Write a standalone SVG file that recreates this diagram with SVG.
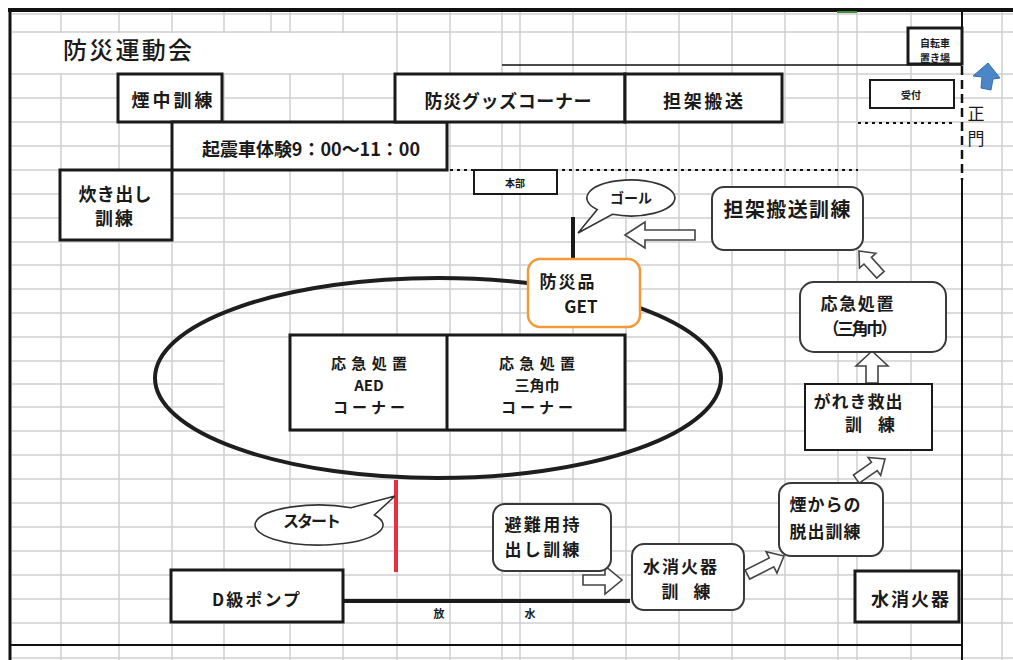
<svg xmlns="http://www.w3.org/2000/svg" width="1013" height="660" viewBox="0 0 1013 660">
<style>
.grid{stroke:#cfcfcf;stroke-width:1.5;fill:none}
.box{fill:#fff;stroke:#1a1a1a;stroke-width:3}
.box2{fill:#fff;stroke:#1a1a1a;stroke-width:2}
.rbox{fill:#fff;stroke:#3a3a3a;stroke-width:2}
.harrow{fill:#fff;stroke:#444;stroke-width:1.6;stroke-linejoin:miter}
.bub{fill:#fff;stroke:#333;stroke-width:1.6}
text{font-family:"Noto Sans CJK JP","Noto Sans",sans-serif;font-weight:700;fill:#1a1a1a;dominant-baseline:central;text-anchor:middle}
.s10{font-size:10px}
.s14{font-size:14px}
.s15{font-size:15px}
.s16{font-size:16px}
.s17{font-size:17px}
.s18{font-size:18px}
.s20{font-size:20px}
</style>
<rect width="1013" height="660" fill="#fff"/>
<g id="grid">
<path class="grid" d="M61 12V660M119 12V660M172 12V660M224 12V660M290 12V660M343 12V660M397 12V660M450 12V660M502 12V660M520 12V660M573 12V660M626 12V660M679 12V660M732 12V660M785 12V660M838 12V660M857 12V660M911 12V660M1002 12V660M271 12V32"/>
<path class="grid" d="M12 14H1013M12 32H1013M12 74H1013M12 98H1013M12 122H1013M12 146H1013M12 170H1013M12 194H1013M12 218H1013M12 242H1013M12 265H1013M12 289H1013M12 313H1013M12 337H1013M12 361H1013M12 384H1013M12 407H1013M12 431H1013M12 455H1013M12 479H1013M12 503H1013M12 527H1013M12 551H1013M12 575H1013M12 599H1013M12 623H1013M12 658H1013"/>
<rect x="12" y="33" width="383" height="40" fill="#fff"/>
<rect x="225" y="338" width="64" height="116" fill="#fff"/>
</g>
<g id="frame" fill="none" stroke="#111">
<path d="M8 10H1013" stroke-width="4"/>
<path d="M10 8V660" stroke-width="3"/>
<path d="M962 10V65M962 180V660" stroke-width="2"/>
<path d="M962 66V180" stroke-width="2.5" stroke-dasharray="9 5"/>
<path d="M10 645H962" stroke-width="2"/>
<path d="M502 65H962" stroke-width="1.5"/>
<path d="M858 123H955" stroke-width="2" stroke-dasharray="3 4"/>
<path d="M450 170H858" stroke-width="2" stroke-dasharray="3 4"/>
<path d="M837 12H857" stroke="#3c8c3c" stroke-width="2"/>
</g>
<g id="track">
<ellipse cx="438" cy="378" rx="283" ry="100" fill="none" stroke="#1e1e1e" stroke-width="4"/>
</g>
<g id="connectors">
<path d="M573 217V259" stroke="#1a1a1a" stroke-width="4"/>
<path d="M396 480V572" stroke="#e8303a" stroke-width="4"/>
<path d="M343 601H630" stroke="#1a1a1a" stroke-width="4"/>
<polygon class="harrow" points="625,235 645,222 645,230 695,230 695,240 645,240 645,248"/>
<polygon class="harrow" transform="translate(859,251) rotate(-42)" points="0,0 11,13 5,13 5,32 -5,32 -5,13 -11,13"/>
<polygon class="harrow" points="872,351 888,366 878,366 878,383 866,383 866,366 856,366"/>
<polygon class="harrow" transform="translate(885,459) rotate(55)" points="0,0 11,13 5,13 5,35 -5,35 -5,13 -11,13"/>
<polygon class="harrow" transform="translate(784,556) rotate(63)" points="0,0 12,14 5,14 5,41 -5,41 -5,14 -12,14"/>
<polygon class="harrow" points="583,575 605,575 605,566 622,580 605,594 605,585 583,585"/>
<polygon points="988,63 1000,78 993,79 991,90 981,88 982,77 973,76" fill="#4a86c8" stroke="#3a6fa8" stroke-width="1"/>
</g>
<g id="title"><text x="63" y="48" style="font-size:24px;font-weight:500;text-anchor:start" textLength="129">防災運動会</text></g>
<g id="n-jitensha"><rect class="box" x="908" y="28" width="54" height="36"/><text class="s10" x="935" y="42">自転車</text><text class="s10" x="935" y="57">置き場</text></g>
<g id="n-uketsuke"><rect class="box2" x="870" y="80" width="84" height="28"/><text class="s10" x="911" y="94">受付</text></g>
<g id="n-seimon"><text x="976" y="112" style="font-size:17px;font-weight:400">正</text><text x="976" y="137" style="font-size:17px;font-weight:400">門</text></g>
<g id="n-enchu"><rect class="box" x="118" y="74" width="104" height="48"/><text class="s18" x="172" y="99" textLength="81">煙中訓練</text></g>
<g id="n-kishin"><rect class="box" x="172" y="122" width="275" height="48"/><text class="s18" x="311" y="148" textLength="218">起震車体験9：00～11：00</text></g>
<g id="n-takidashi"><rect class="box" x="60" y="170" width="112" height="70"/><text class="s18" x="115" y="193" textLength="73">炊き出し</text><text class="s18" x="114" y="217" textLength="38">訓練</text></g>
<g id="n-goods"><rect class="box" x="395" y="74" width="230" height="48"/><text class="s18" x="508" y="100" textLength="167">防災グッズコーナー</text></g>
<g id="n-tanka"><rect class="box" x="625" y="74" width="157" height="48"/><text class="s18" x="703" y="100" textLength="80">担架搬送</text></g>
<g id="n-honbu"><rect class="box2" x="474" y="170" width="83" height="24"/><text class="s10" x="515" y="182">本部</text></g>
<g id="n-goal"><path class="bub" d="M597.3,209.6 L578,233 L612.4,214.3 A44,18 0 1 0 597.3,209.6 Z"/><text class="s14" x="631" y="197">ゴール</text></g>
<g id="n-tankakunren"><rect class="rbox" x="712" y="187" width="151" height="63" rx="12"/><text class="s20" x="787" y="208" textLength="127">担架搬送訓練</text></g>
<g id="n-get"><rect x="528" y="259" width="112" height="68" rx="12" fill="#fff" stroke="#f29a38" stroke-width="2.5"/><text class="s17" x="567" y="280" textLength="55">防災品</text><text class="s17" x="581" y="305">GET</text></g>
<g id="n-table"><rect class="box" x="290" y="335" width="335" height="95"/><path d="M447 335V430" stroke="#1a1a1a" stroke-width="3"/>
<text class="s15" x="369" y="362" textLength="76">応急処置</text><text class="s15" x="369" y="384">AED</text><text class="s15" x="369" y="406" textLength="72">コーナー</text>
<text class="s15" x="537" y="362" textLength="76">応急処置</text><text class="s15" x="537" y="384">三角巾</text><text class="s15" x="537" y="406" textLength="72">コーナー</text></g>
<g id="n-sankaku"><rect class="rbox" x="800" y="282" width="146" height="70" rx="14"/><text class="s17" x="857" y="302" textLength="73">応急処置</text><text class="s17" x="860" y="327" textLength="75">（三角巾）</text></g>
<g id="n-gareki"><rect class="box2" x="805" y="384" width="127" height="66"/><text class="s17" x="858" y="400" textLength="89">がれき救出</text><text class="s17" x="870" y="423" textLength="50">訓 練</text></g>
<g id="n-kemuri"><rect class="rbox" x="779" y="483" width="104" height="73" rx="12"/><text class="s17" x="825" y="503" textLength="71">煙からの</text><text class="s17" x="825" y="530" textLength="71">脱出訓練</text></g>
<g id="n-mizukunren"><rect class="rbox" x="632" y="544" width="112" height="66" rx="12"/><text class="s17" x="680" y="565" textLength="74">水消火器</text><text class="s17" x="686" y="590" textLength="49">訓 練</text></g>
<g id="n-hinan"><rect class="rbox" x="493" y="504" width="118" height="67" rx="12"/><text class="s17" x="542" y="523" textLength="75">避難用持</text><text class="s17" x="542" y="548" textLength="75">出し訓練</text></g>
<g id="n-mizu"><rect class="box" x="855" y="571" width="104" height="51"/><text class="s18" x="910" y="598" textLength="78">水消火器</text></g>
<g id="n-pump"><rect class="box" x="171" y="570" width="172" height="52"/><text class="s17" x="256" y="598" textLength="88">D級ポンプ</text></g>
<g id="n-hose"><text x="439" y="613" style="font-size:11px">放</text><text x="530" y="613" style="font-size:11px">水</text></g>
<g id="n-start"><path class="bub" d="M351,507.7 L395,496 L374.4,515 A64,20 0 1 1 351,507.7 Z"/><text class="s16" x="312" y="520" textLength="58">スタート</text></g>
</svg>
